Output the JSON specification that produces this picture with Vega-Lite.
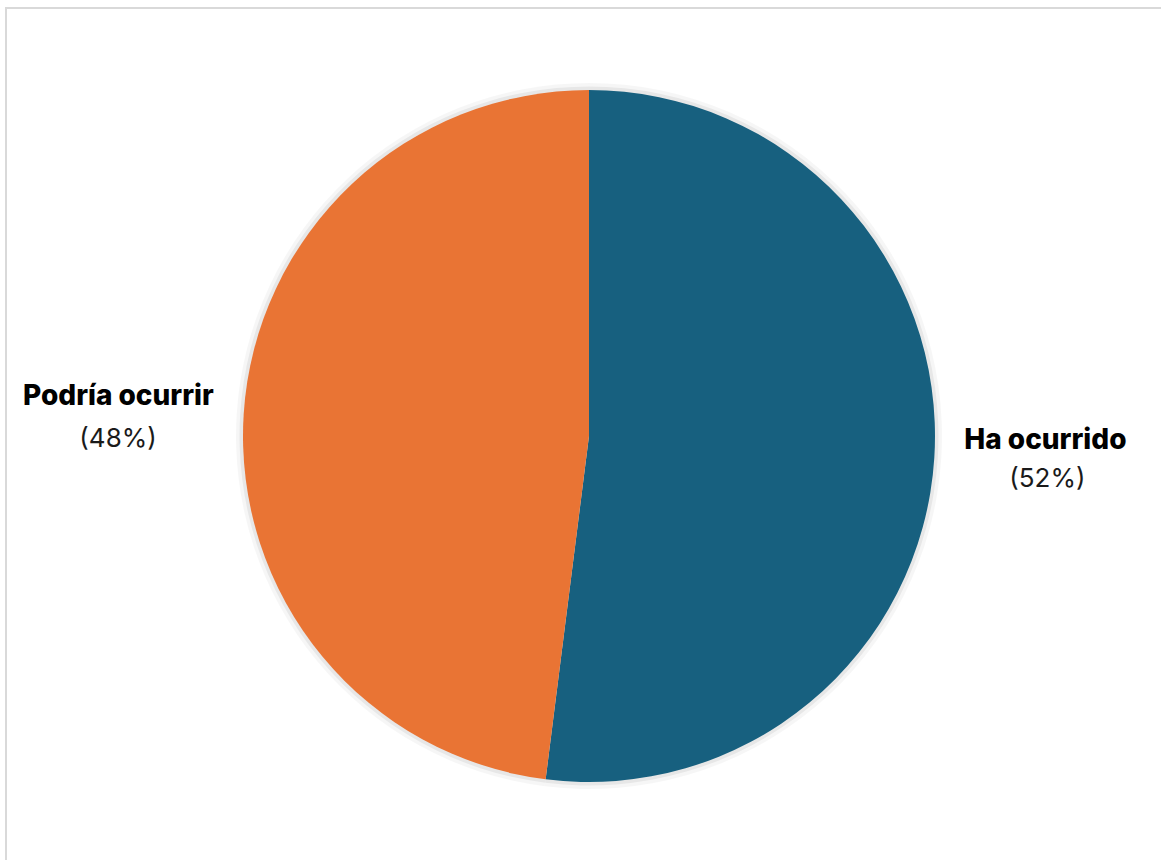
{
  "$schema": "https://vega.github.io/schema/vega-lite/v6.json",
  "width": 1166,
  "height": 856,
  "autosize": {"type": "none"},
  "padding": {"left": 6, "top": 8, "right": 0, "bottom": 0},
  "background": "white",
  "config": {
    "view": {"stroke": "#d9d9d9", "strokeWidth": 2},
    "font": "Inter"
  },
  "data": {
    "values": [
      {"categoria": "Ha ocurrido", "porcentaje": 52, "etiqueta": "(52%)", "orden": 1},
      {"categoria": "Podría ocurrir", "porcentaje": 48, "etiqueta": "(48%)", "orden": 2}
    ]
  },
  "layer": [
    {
      "mark": {"type": "point", "opacity": 0},
      "encoding": {
        "x": {"datum": 0, "type": "quantitative", "axis": null},
        "y": {"datum": 0, "type": "quantitative", "axis": null}
      }
    },
    {
      "mark": {"type": "arc", "outerRadius": 353, "color": "#000000", "opacity": 0.035},
      "encoding": {
        "theta": {"field": "porcentaje", "type": "quantitative", "stack": true},
        "order": {"field": "orden", "type": "quantitative"}
      }
    },
    {
      "mark": {"type": "arc", "outerRadius": 349.5, "color": "#000000", "opacity": 0.06},
      "encoding": {
        "theta": {"field": "porcentaje", "type": "quantitative", "stack": true},
        "order": {"field": "orden", "type": "quantitative"}
      }
    },
    {
      "mark": {"type": "arc", "outerRadius": 346},
      "encoding": {
        "theta": {"field": "porcentaje", "type": "quantitative", "stack": true},
        "order": {"field": "orden", "type": "quantitative"},
        "color": {
          "field": "categoria",
          "type": "nominal",
          "scale": {"domain": ["Ha ocurrido", "Podría ocurrir"], "range": ["#17607F", "#E97434"]},
          "legend": null
        }
      }
    },
    {
      "mark": {"type": "text", "radius": 376, "dy": {"expr": "datum.orden == 1 ? -19 : -15"}, "fontSize": 28, "fontWeight": 800, "color": "#000000", "baseline": "middle", "align": {"expr": "datum.orden == 1 ? 'left' : 'right'"}},
      "encoding": {
        "theta": {"field": "porcentaje", "type": "quantitative", "stack": true},
        "order": {"field": "orden", "type": "quantitative"},
        "detail": {"field": "categoria", "type": "nominal"},
        "text": {"field": "categoria", "type": "nominal"}
      }
    },
    {
      "mark": {"type": "text", "radius": 376, "dy": {"expr": "datum.orden == 1 ? 19 : 27"}, "dx": {"expr": "datum.orden == 1 ? 45 : -57"}, "fontSize": 26, "color": "#1a1a1a", "baseline": "middle", "align": {"expr": "datum.orden == 1 ? 'left' : 'right'"}},
      "encoding": {
        "theta": {"field": "porcentaje", "type": "quantitative", "stack": true},
        "order": {"field": "orden", "type": "quantitative"},
        "detail": {"field": "categoria", "type": "nominal"},
        "text": {"field": "etiqueta", "type": "nominal"}
      }
    }
  ]
}
